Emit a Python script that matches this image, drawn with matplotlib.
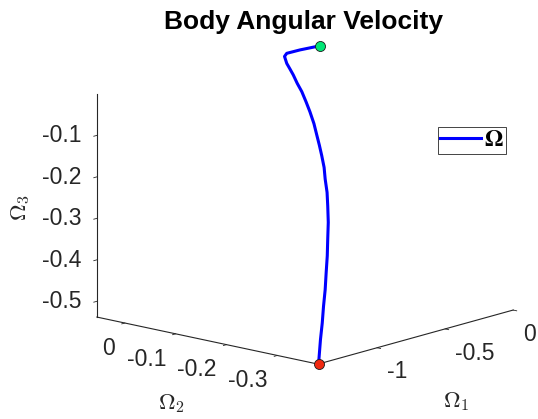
import matplotlib
matplotlib.use("Agg")
import matplotlib.pyplot as plt

# Body angular velocity components along the trajectory (rad/s)
omega1 = [-1.430, -1.289, -1.190, -1.091, -0.993, -0.896, -0.802, -0.709, -0.619,
          -0.537, -0.471, -0.414, -0.362, -0.316, -0.281, -0.247, -0.209, -0.175,
          -0.151, -0.130, -0.119, -0.105, -0.097, -0.091, -0.074, -0.039, -0.020,
          0.000]
omega2 = [-0.380, -0.346, -0.323, -0.299, -0.276, -0.252, -0.229, -0.205, -0.182,
          -0.159, -0.140, -0.121, -0.105, -0.088, -0.074, -0.060, -0.044, -0.027,
          -0.013, 0.001, 0.013, 0.0245, 0.033, 0.041, 0.050, 0.055, 0.034,
          0.000]
omega3 = [-0.538, -0.501, -0.476, -0.451, -0.426, -0.400, -0.374, -0.349, -0.322,
          -0.296, -0.274, -0.252, -0.233, -0.213, -0.195, -0.178, -0.157, -0.136,
          -0.118, -0.099, -0.083, -0.067, -0.056, -0.045, -0.032, -0.029, -0.017,
          0.000]

x_limits = (-1.434, 0.0)
y_limits = (-0.380, 0.055)
z_limits = (-0.538, 0.0)

x_ticks = [-1, -0.5, 0]
x_tick_labels = ["-1", "-0.5", "0"]
y_ticks = [0, -0.1, -0.2, -0.3]
y_tick_labels = ["0", "-0.1", "-0.2", "-0.3"]
z_ticks = [-0.5, -0.4, -0.3, -0.2, -0.1]
z_tick_labels = ["-0.5", "-0.4", "-0.3", "-0.2", "-0.1"]

plt.rcParams["font.family"] = ["Liberation Sans", "DejaVu Sans"]
plt.rcParams["mathtext.fontset"] = "cm"
plt.rcParams["axes.unicode_minus"] = False

ink = "#262626"

fig = plt.figure(figsize=(5.38, 4.19), dpi=100)
ax = fig.add_axes([0.1656, 0.0026, 0.7816, 1.0036], projection="3d")
ax.set_proj_type("ortho")
ax.set_box_aspect((1, 0.993, 0.777), zoom=1.1)
ax.view_init(elev=14.05, azim=-138.77)
ax.computed_zorder = False

ax.plot(omega1, omega2, omega3, color="#0000ff", lw=2.2, zorder=2,
        label=r"$\mathbf{\Omega}$")
ax.plot([omega1[-1]], [omega2[-1]], [omega3[-1]], "o", ms=7.2,
        mfc="#00e676", mec="#1a1a1a", mew=0.6, zorder=3)
ax.plot([omega1[0]], [omega2[0]], [omega3[0]], "o", ms=7.2,
        mfc="#f02810", mec="#1a1a1a", mew=0.6, zorder=3)

ax.set_xlim(*x_limits)
ax.set_ylim(*y_limits)
ax.set_zlim(*z_limits)
ax.set_xticks(x_ticks, x_tick_labels)
ax.set_yticks(y_ticks, y_tick_labels)
ax.set_zticks(z_ticks, z_tick_labels)
ax.tick_params(labelsize=16.5, colors=ink)
ax.tick_params(axis="x", pad=-0.6)
ax.tick_params(axis="y", pad=-0.2)
ax.tick_params(axis="z", pad=-2.0)

# tick label anchoring per axis
for t in ax.xaxis.get_major_ticks():
    t.label1.set_horizontalalignment("left")
    t.label1.set_verticalalignment("top")
for t in ax.yaxis.get_major_ticks():
    t.label1.set_horizontalalignment("right")
    t.label1.set_verticalalignment("top")
for t in ax.zaxis.get_major_ticks():
    t.label1.set_horizontalalignment("right")
    t.label1.set_verticalalignment("center")

ax.grid(False)
for axis in (ax.xaxis, ax.yaxis, ax.zaxis):
    axis.set_pane_color((1, 1, 1, 0))
    axis.pane.set_edgecolor((1, 1, 1, 0))
    axis.line.set_color(ink)
    axis.line.set_linewidth(0.8)
    axis._axinfo["tick"]["inward_factor"] = 0.2
    axis._axinfo["tick"]["outward_factor"] = 0.0
    axis._axinfo["tick"]["linewidth"] = {True: 0.6, False: 0.5}

fig.text(303 / 538, 1 - 29.5 / 419, "Body Angular Velocity", ha="center",
         va="baseline", fontsize=19, fontweight="bold", color="black")

fig.text(456 / 538, 1 - 401 / 419, r"$\Omega_1$", ha="center", va="center",
         fontsize=16.5, color=ink)
fig.text(171 / 538, 1 - 403 / 419, r"$\Omega_2$", ha="center", va="center",
         fontsize=16.5, color=ink)
fig.text(21 / 538, 1 - 208 / 419, r"$\Omega_3$", ha="center", va="center",
         fontsize=16.5, color=ink, rotation=90)

leg = ax.legend(loc="upper right", bbox_to_anchor=(506 / 538, 1 - 127 / 419),
                bbox_transform=fig.transFigure, borderaxespad=0, fancybox=False,
                edgecolor=ink, framealpha=1, handlelength=1.7, fontsize=17,
                borderpad=0.1, handletextpad=0.15)
leg.get_frame().set_linewidth(0.6)
for txt in leg.get_texts():
    txt.set_math_fontfamily("stix")

fig.savefig("out.png", dpi=100)
